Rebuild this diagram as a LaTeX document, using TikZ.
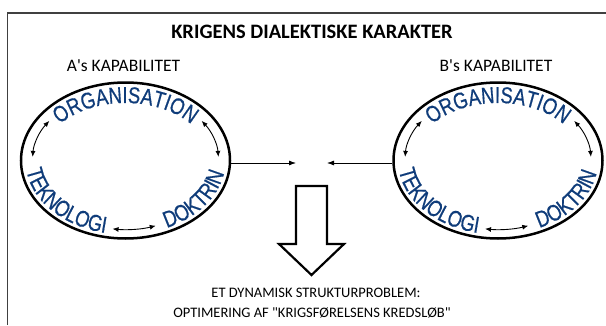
\documentclass[tikz,border=0pt]{standalone}
\usepackage{fontspec}
\usetikzlibrary{shapes.geometric,decorations.text,arrows.meta}
\newfontfamily\capfont{Carlito}
\newfontfamily\ringfont{Liberation Sans}[FakeStretch=0.8,FakeBold=0.6]
\definecolor{ringblue}{RGB}{15,60,122}
\definecolor{framegray}{RGB}{64,64,64}
\newcommand\ringsize{\ringfont\fontsize{23}{25}\selectfont}
\tikzset{
  capring/.style={ellipse, draw, line width=2.5pt, minimum width=209pt, minimum height=156pt, inner sep=0pt},
  labeltxt/.style={font=\capfont\fontsize{17.5}{20}\selectfont, inner sep=0pt},
  bottomtxt/.style={font=\capfont\fontsize{14.5}{17}\selectfont, inner sep=0pt},
  titletxt/.style={font=\capfont\bfseries\fontsize{20.5}{23}\selectfont, inner sep=0pt},
  link/.style={-{Latex[length=7pt,width=5pt]}, line width=0.8pt},
  mutual/.style={{Latex[length=6pt,width=5pt]}-{Latex[length=6pt,width=5pt]}, line width=0.9pt},
  ringtext/.style={decorate, decoration={text along path, text align=center, text color=ringblue, text={|\ringsize|#1}}}
}
\begin{document}
\begin{tikzpicture}[x=1pt,y=1pt]
  \useasboundingbox (0,0) rectangle (606,325);
  \draw[framegray, line width=1.5pt] (7.5,0) -- (7.5,312) -- (606,312);
  \node[titletxt] (title) at (312,293) {KRIGENS DIALEKTISKE KARAKTER};
  \foreach \cx/\who in {125.5/A, 498/B} {
    \begin{scope}[shift={(\cx,164.5)}]
      \node[capring] (cap\who) at (0,0) {};
      \node[labeltxt] (lbl\who) at (-2,95) {\who's KAPABILITET};
      \path[ringtext=ORGANISATION] (160:84.5 and 57.5) arc[start angle=160, end angle=20, x radius=84.5, y radius=57.5];
      \path[ringtext=TEKNOLOGI] (172:100 and 74) arc[start angle=172, end angle=270, x radius=100, y radius=74];
      \path[ringtext=DOKTRIN] (278:100 and 74) arc[start angle=278, end angle=372, x radius=100, y radius=74];
      \draw[mutual] (145:93 and 69) arc[start angle=145, end angle=177, x radius=93, y radius=69];
      \draw[mutual] (35:93 and 69) arc[start angle=35, end angle=3, x radius=93, y radius=69];
      \draw[mutual] (262:93 and 69) arc[start angle=262, end angle=289, x radius=93, y radius=69];
    \end{scope}
  }
  \coordinate (meetA) at (296,162);
  \coordinate (meetB) at (327,162);
  \draw[link] (capA.east |- meetA) -- (meetA);
  \draw[link] (capB.west |- meetB) -- (meetB);
  \draw[line width=2.2pt, line join=miter] (296,139) -- (327,139) -- (327,81) -- (344,81)
        -- (311.5,50) -- (279,81) -- (296,81) -- cycle;
  \node[bottomtxt] (prob) at (316,32) {ET DYNAMISK STRUKTURPROBLEM:};
  \node[bottomtxt] (optim) at (312,12) {OPTIMERING AF "KRIGSFØRELSENS KREDSLØB"};
\end{tikzpicture}
\end{document}
